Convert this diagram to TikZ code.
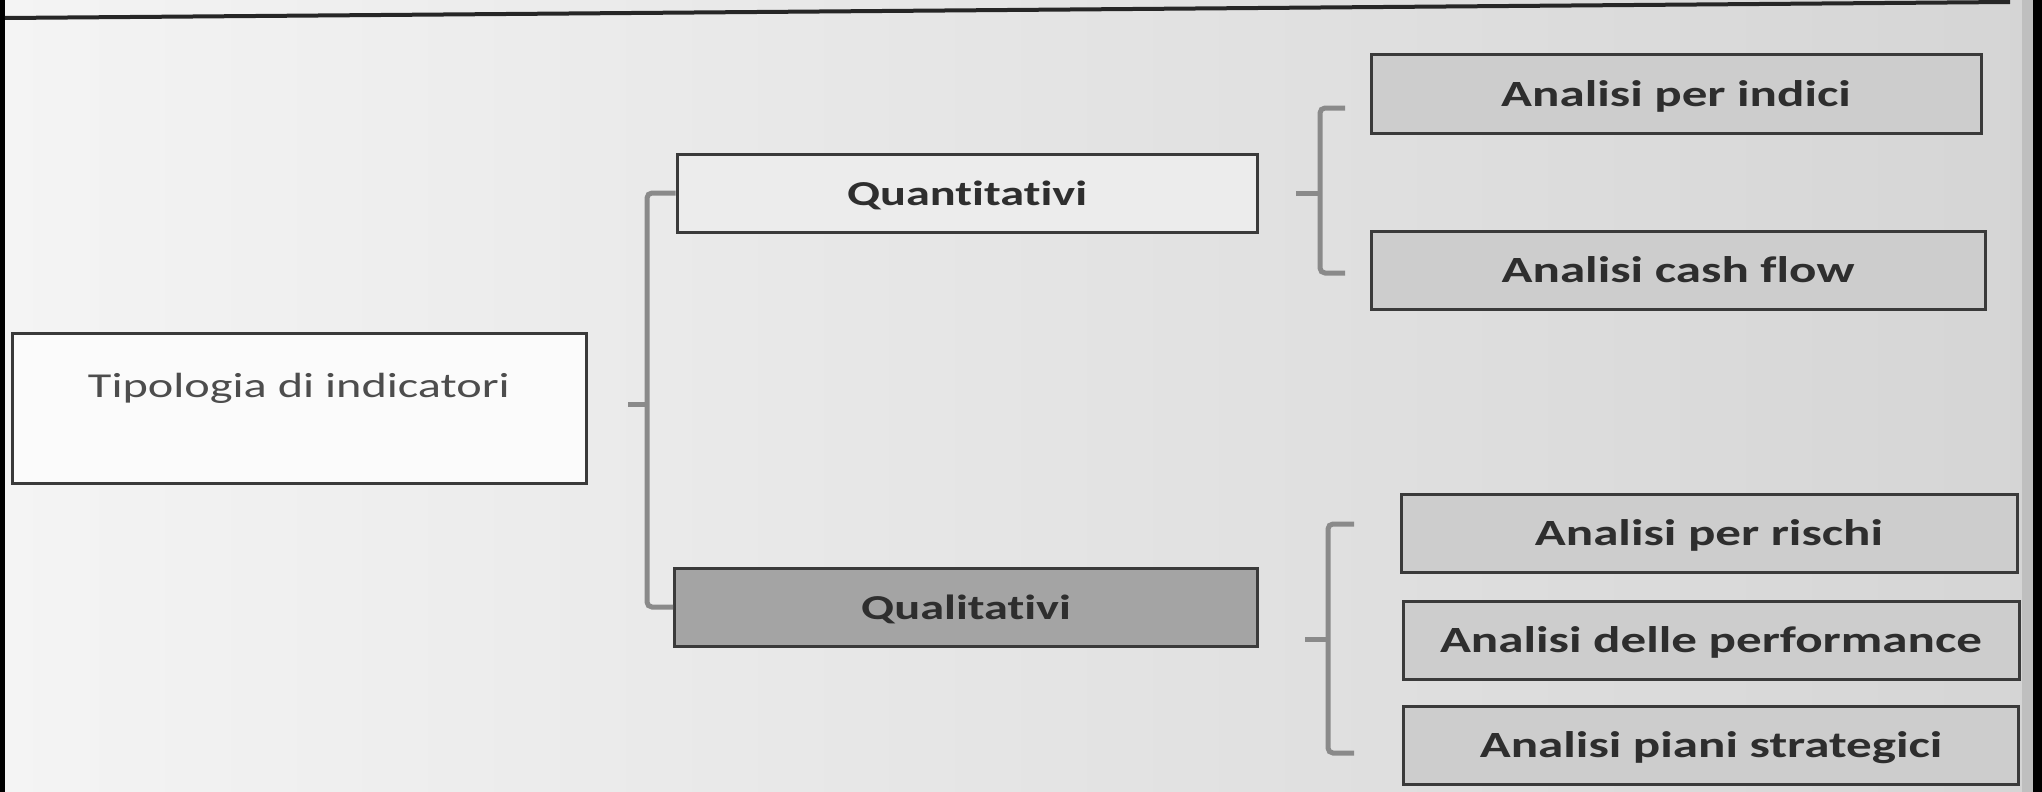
\documentclass[tikz,border=0pt]{standalone}
\usepackage{fontspec}
\setmainfont{Carlito}[FakeStretch=1.38, Ligatures=NoCommon]
\usetikzlibrary{calc}

\definecolor{paperL}{HTML}{F4F4F4}
\definecolor{paperM}{HTML}{E5E5E5}
\definecolor{paperR}{HTML}{D5D5D5}
\definecolor{boxline}{HTML}{3A3A3A}
\definecolor{ink}{HTML}{2E2E2E}
\definecolor{subfill}{HTML}{CDCDCD}
\definecolor{qualfill}{HTML}{A4A4A4}
\definecolor{quanfill}{HTML}{ECECEC}
\definecolor{rootfill}{HTML}{FBFBFB}
\definecolor{bracketgray}{HTML}{8A8A8A}

\tikzset{
  box/.style={draw=boxline, line width=3pt, inner sep=0pt, text=ink,
              text height=24pt, text depth=0pt},
  rootbox/.style={box, fill=rootfill, text=ink!85,
              font=\fontsize{35}{40}\selectfont, text depth=46pt},
  midbox/.style={box, font=\fontsize{35}{40}\selectfont\bfseries,
              minimum height=78pt},
  leafbox/.style={box, fill=subfill, font=\fontsize{37}{42}\selectfont\bfseries,
              minimum height=78pt},
  bracket/.style={draw=bracketgray, line width=5pt, rounded corners=5pt},
  rule/.style={draw=black!85, line width=4pt},
}

\begin{document}
\begin{tikzpicture}[x=1pt, y=-1pt]
  % paper
  \shade[left color=paperL, middle color=paperM, right color=paperR]
    (0,0) rectangle (2042,792);
  \useasboundingbox (0,0) rectangle (2042,792);
  % page edges
  \fill[black] (0,0) rectangle (5,792);
  \fill[black!25] (2022,0) rectangle (2033,792);
  \fill[black] (2033,0) rectangle (2042,792);

  % heading rule
  \coordinate (ruleL) at (5,18);
  \coordinate (ruleR) at (2010,2);
  \draw[rule] (ruleL) -- (ruleR);

  % root
  \node[rootbox, minimum width=574pt, minimum height=150pt] (tip) at (299,408)
    {Tipologia di indicatori};

  % second level
  \node[midbox, fill=quanfill, minimum width=580pt] (quan) at (967,193) {Quantitativi};
  \node[midbox, fill=qualfill, minimum width=583pt] (qual) at (966,607) {Qualitativi};

  % third level
  \node[leafbox, minimum width=610pt] (ind)   at (1676,94)  {Analisi per indici};
  \node[leafbox, minimum width=614pt] (cash)  at (1678,270) {Analisi cash flow};
  \node[leafbox, minimum width=616pt] (risk)  at (1709,533) {Analisi per rischi};
  \node[leafbox, minimum width=616pt] (perf)  at (1711,640) {Analisi delle performance};
  \node[leafbox, minimum width=615pt] (piani) at (1711,745) {Analisi piani strategici};

  % bracket: root -> quantitativi / qualitativi
  \coordinate (rootStub) at (628,404);
  \coordinate (rootMid)  at (647,404);
  \draw[bracket] (quan.west) -| (rootMid) |- (qual.west);
  \draw[bracket, rounded corners=0pt] (rootStub) -- (rootMid);

  % bracket: quantitativi -> analisi
  \coordinate (quanStub) at (1296,193);
  \coordinate (quanMid)  at (1320,193);
  \coordinate (quanTop)  at (1345,108);
  \coordinate (quanBot)  at (1345,273);
  \draw[bracket] (quanTop) -| (quanMid) |- (quanBot);
  \draw[bracket, rounded corners=0pt] (quanStub) -- (quanMid);

  % bracket: qualitativi -> analisi
  \coordinate (qualStub) at (1305,639);
  \coordinate (qualMid)  at (1328,639);
  \coordinate (qualTop)  at (1354,524);
  \coordinate (qualBot)  at (1354,753);
  \draw[bracket] (qualTop) -| (qualMid) |- (qualBot);
  \draw[bracket, rounded corners=0pt] (qualStub) -- (qualMid);
\end{tikzpicture}
\end{document}
